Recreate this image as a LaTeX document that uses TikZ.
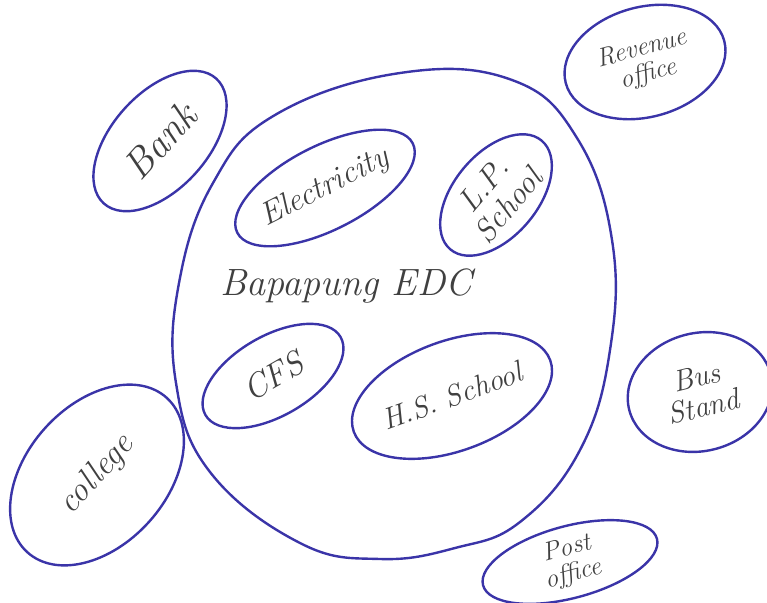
\documentclass[tikz,border=0pt]{standalone}
\usepackage{tikz}
\usetikzlibrary{shapes.geometric}
\definecolor{pen}{HTML}{3A34A8}
\definecolor{ink}{HTML}{404040}
\newcommand{\hand}[1]{\itshape\fontsize{#1}{#1}\selectfont}
\begin{document}
\begin{tikzpicture}[x=1pt,y=-1pt,
    spot/.style={ellipse, draw=pen, line width=2.4pt, inner sep=0pt,
    text=ink, align=center, font=\hand{32}}]
  \useasboundingbox (0,0) rectangle (767,602);
  % the big outline
  \draw[pen,line width=2.4pt] plot[smooth cycle,tension=0.7] coordinates {
    (400,73) (512,80) (577,138) (612,240) (610,350) (580,450) (520,522)
    (455,548) (380,559) (300,543) (210,472) (176,383) (179,283) (213,183)
    (275,115)};
  \node[text=ink,font=\hand{38}] (name) at (346,286) {Bapapung EDC};
  \node[spot,minimum width=168,minimum height=96,rotate=48,font=\hand{40}] (bank) at (160,141) {Bank};
  \node[spot,minimum width=182,minimum height=84,rotate=27] (elec) at (325,188) {Electricity};
  \node[spot,minimum width=142,minimum height=84,rotate=50] (lp) at (496,195) {L.P.\\School};
  \node[spot,minimum width=164,minimum height=110,rotate=15,font=\hand{26}] (rev) at (645,62) {Revenue\\office};
  \node[spot,minimum width=156,minimum height=80,rotate=30,font=\hand{34}] (cfs) at (273,376) {CFS};
  \node[spot,minimum width=200,minimum height=110,rotate=20,font=\hand{30}] (hs) at (452,396) {H.S. School};
  \node[spot,minimum width=146,minimum height=118,rotate=14,font=\hand{30}] (bus) at (700,392) {Bus\\Stand};
  \node[spot,minimum width=208,minimum height=140,rotate=48,font=\hand{34}] (col) at (97,475) {college};
  \node[spot,minimum width=180,minimum height=72,rotate=15,font=\hand{26}] (post) at (570,562) {Post\\office};
\end{tikzpicture}
\end{document}
